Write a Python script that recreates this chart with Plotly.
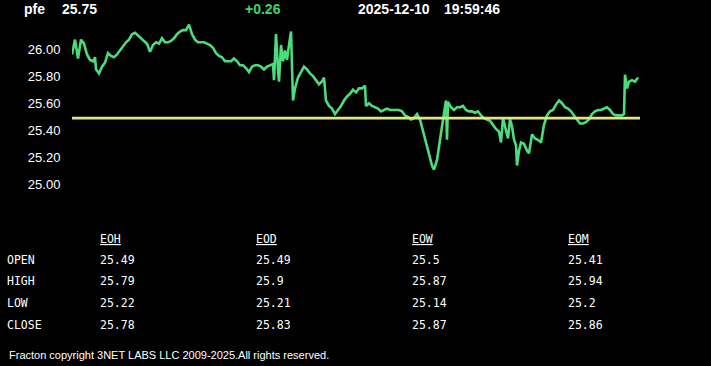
import plotly.graph_objects as go

# ---------------- data ----------------
symbol = "pfe"
last_price = "25.75"
change = "+0.26"
stamp_date = "2025-12-10"
stamp_time = "19:59:46"
ref_price = 25.49

# time offsets (sample positions along the session) and prices
t = [0, 3, 6, 9, 12, 15, 18, 21, 23, 24, 27, 30, 33, 36, 39, 42, 45, 48, 51, 54,
     57, 60, 63, 66, 69, 72, 75, 78, 81, 84, 87, 90, 93, 96, 99, 102, 105, 108, 111, 114,
     117, 120, 123, 126, 129, 132, 135, 138, 141, 144, 147, 150, 153, 156, 159, 162, 165, 168, 171, 174,
     177, 180, 183, 186, 189, 192, 195, 198, 201, 202, 204, 206, 207, 209, 211, 213, 215, 217, 219, 221,
     223, 226, 229, 232, 235, 238, 241, 244, 247, 250, 252, 254, 257, 260, 263, 266, 269, 272, 275, 278,
     281, 284, 287, 290, 293, 294, 297, 300, 303, 306, 309, 312, 315, 318, 321, 324, 327, 330, 333, 336,
     339, 342, 345, 348, 351, 354, 357, 360, 362, 365, 368, 371, 373, 374, 375, 376, 379, 382, 385, 388,
     391, 394, 397, 400, 403, 406, 409, 412, 415, 418, 421, 424, 427, 429, 431, 434, 436, 438, 440, 442,
     444, 445, 447, 449, 452, 455, 457, 460, 463, 466, 469, 472, 475, 478, 481, 484, 487, 490, 493, 496,
     499, 502, 505, 508, 511, 514, 517, 520, 523, 526, 529, 532, 535, 538, 541, 544, 547, 550, 552, 553,
     555, 557, 560, 563, 566]
price = [25.96, 26.07, 25.93, 26.07, 26.04, 25.96, 25.92, 25.91, 25.94, 25.85, 25.82, 25.87, 25.90, 25.97, 25.95, 25.94, 25.96, 25.99, 26.02, 26.05,
         26.07, 26.11, 26.12, 26.10, 26.08, 26.06, 26.04, 25.98, 26.03, 26.05, 26.04, 26.08, 26.05, 26.05, 26.06, 26.08, 26.11, 26.13, 26.14, 26.14,
         26.18, 26.11, 26.07, 26.05, 26.05, 26.05, 26.04, 26.03, 26.01, 25.97, 25.95, 25.94, 25.91, 25.91, 25.91, 25.93, 25.91, 25.88, 25.88, 25.86,
         25.83, 25.87, 25.88, 25.88, 25.87, 25.85, 25.87, 25.88, 25.89, 25.77, 26.11, 25.85, 25.76, 26.03, 25.91, 25.99, 25.92, 26.03, 26.13, 25.62,
         25.71, 25.79, 25.83, 25.87, 25.85, 25.82, 25.80, 25.77, 25.74, 25.76, 25.79, 25.62, 25.58, 25.56, 25.52, 25.55, 25.58, 25.62, 25.65, 25.67,
         25.70, 25.68, 25.71, 25.71, 25.73, 25.58, 25.60, 25.58, 25.57, 25.56, 25.54, 25.55, 25.56, 25.55, 25.55, 25.55, 25.55, 25.54, 25.51, 25.50,
         25.48, 25.49, 25.52, 25.48, 25.40, 25.31, 25.22, 25.14, 25.11, 25.18, 25.33, 25.48, 25.55, 25.62, 25.33, 25.61, 25.57, 25.55, 25.57, 25.57,
         25.58, 25.55, 25.54, 25.54, 25.53, 25.54, 25.51, 25.49, 25.48, 25.47, 25.44, 25.41, 25.39, 25.31, 25.49, 25.39, 25.34, 25.48, 25.43, 25.33,
         25.29, 25.14, 25.25, 25.31, 25.30, 25.25, 25.23, 25.37, 25.34, 25.33, 25.31, 25.44, 25.51, 25.54, 25.55, 25.59, 25.62, 25.60, 25.57, 25.56,
         25.54, 25.51, 25.48, 25.45, 25.45, 25.46, 25.48, 25.52, 25.54, 25.55, 25.55, 25.56, 25.57, 25.55, 25.52, 25.51, 25.51, 25.51, 25.52, 25.81,
         25.71, 25.76, 25.77, 25.76, 25.79]

y_ticks = [25.00, 25.20, 25.40, 25.60, 25.80, 26.00]

row_labels = ["OPEN", "HIGH", "LOW", "CLOSE"]
col_labels = ["EOH", "EOD", "EOW", "EOM"]
table_vals = {
    "EOH": ["25.49", "25.79", "25.22", "25.78"],
    "EOD": ["25.49", "25.9", "25.21", "25.83"],
    "EOW": ["25.5", "25.87", "25.14", "25.87"],
    "EOM": ["25.41", "25.94", "25.2", "25.86"],
}
footer = "Fracton copyright 3NET LABS LLC 2009-2025.All rights reserved."

# ---------------- layout constants ----------------
W, H = 711, 366
ML, MR, MT, MB = 72, 71, 22, 168
PW = W - ML - MR
PH = H - MT - MB


def px(xp):
    return (xp - ML) / PW


def py(yp):
    return (H - MB - yp) / PH


GREEN = "#4bdc7c"
YELLOW = "#dfe587"

fig = go.Figure()
fig.add_trace(go.Scatter(x=t, y=price, mode="lines",
                         line=dict(color=GREEN, width=2.6), hoverinfo="skip"))
fig.add_trace(go.Scatter(x=[0, 568], y=[ref_price, ref_price], mode="lines",
                         line=dict(color=YELLOW, width=2.6), hoverinfo="skip"))

ann = []
hdr_font = dict(family="Liberation Sans, Arial", size=14, color="white")
ann.append(dict(text=f"<b>{symbol}</b>", x=px(23), y=py(9), xanchor="left", yanchor="middle", font=hdr_font))
ann.append(dict(text=f"<b>{last_price}</b>", x=px(61), y=py(9), xanchor="left", yanchor="middle", font=hdr_font))
ann.append(dict(text=f"<b>{change}</b>", x=px(244), y=py(9), xanchor="left", yanchor="middle",
                font=dict(family="Liberation Sans, Arial", size=14, color="#3fd46a")))
ann.append(dict(text=f"<b>{stamp_date}</b>", x=px(357), y=py(9), xanchor="left", yanchor="middle", font=hdr_font))
ann.append(dict(text=f"<b>{stamp_time}</b>", x=px(443), y=py(9), xanchor="left", yanchor="middle", font=hdr_font))

mono = dict(family="DejaVu Sans Mono, monospace", size=11.5, color="white")
col_x = [99, 255, 411, 567]
row_y = [260, 281, 303, 325]
for cx, c in zip(col_x, col_labels):
    ann.append(dict(text=f"<u>{c}</u>", x=px(cx), y=py(239), xanchor="left", yanchor="middle", font=mono))
    for ry, v in zip(row_y, table_vals[c]):
        ann.append(dict(text=v, x=px(cx), y=py(ry), xanchor="left", yanchor="middle", font=mono))
for ry, r in zip(row_y, row_labels):
    ann.append(dict(text=r, x=px(6), y=py(ry), xanchor="left", yanchor="middle", font=mono))

ann.append(dict(text=footer, x=px(8), y=py(355), xanchor="left", yanchor="middle",
                font=dict(family="Liberation Sans, Arial", size=11, color="white")))

for a in ann:
    a.update(xref="paper", yref="paper", showarrow=False, borderpad=0)

fig.update_layout(
    width=W, height=H,
    margin=dict(l=ML, r=MR, t=MT, b=MB, pad=0),
    paper_bgcolor="black", plot_bgcolor="black",
    showlegend=False,
    annotations=ann,
    xaxis=dict(range=[0, 568], visible=False, fixedrange=True),
    yaxis=dict(range=[24.9, 26.2], tickvals=y_ticks, ticktext=[f"{v:.2f}" for v in y_ticks],
               showgrid=False, zeroline=False, showline=False,
               ticks="outside", ticklen=8, tickcolor="black",
               tickfont=dict(family="Liberation Sans, Arial", size=13, color="white"),
               fixedrange=True),
)

fig.write_html("out.html", config={"displayModeBar": False})
